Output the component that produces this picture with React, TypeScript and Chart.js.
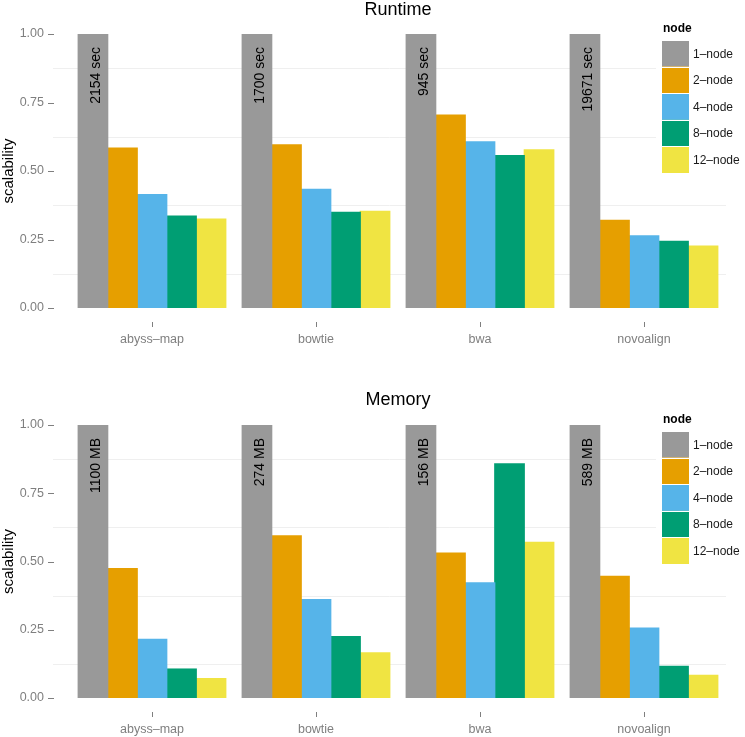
import React, { useEffect, useRef } from "react";
import { Chart, registerables } from "chart.js";

Chart.register(...registerables);

const programs = ["abyss–map", "bowtie", "bwa", "novoalign"];
const nodeLabels = ["1–node", "2–node", "4–node", "8–node", "12–node"];
const nodeColors = ["#999999", "#E69F00", "#56B4E9", "#009E73", "#F0E442"];
const yTicks = [0, 0.25, 0.5, 0.75, 1];

const runtime1 = [1, 1, 1, 1];
const runtime2 = [0.584, 0.595, 0.704, 0.32];
const runtime4 = [0.414, 0.433, 0.606, 0.263];
const runtime8 = [0.335, 0.349, 0.556, 0.243];
const runtime12 = [0.324, 0.353, 0.577, 0.226];
const runtimeBase = ["2154 sec", "1700 sec", "945 sec", "19671 sec"];

const memory1 = [1, 1, 1, 1];
const memory2 = [0.474, 0.594, 0.531, 0.446];
const memory4 = [0.215, 0.36, 0.422, 0.256];
const memory8 = [0.106, 0.225, 0.858, 0.116];
const memory12 = [0.071, 0.165, 0.57, 0.083];
const memoryBase = ["1100 MB", "274 MB", "156 MB", "589 MB"];

const FONT = "'Liberation Sans', Arial, Helvetica, sans-serif";

type PanelProps = {
  title: string;
  series: number[][];
  baseLabels: string[];
  height: number;
  padTop: number;
  xAxisHeight: number;
  titleY: number;
};

function Panel({ title, series, baseLabels, height, padTop, xAxisHeight, titleY }: PanelProps) {
  const ref = useRef<HTMLCanvasElement | null>(null);

  useEffect(() => {
    const canvas = ref.current;
    if (!canvas) return;

    const decor = {
      id: "decor",
      beforeDatasetsDraw(chart: any) {
        const ctx = chart.ctx;
        const y = chart.scales.y;
        const x = chart.scales.x;
        const area = chart.chartArea;
        ctx.save();
        // minor gridlines
        ctx.strokeStyle = "#efefef";
        ctx.lineWidth = 1;
        for (let i = 0; i < yTicks.length - 1; i++) {
          const v = (yTicks[i] + yTicks[i + 1]) / 2;
          const py = Math.round(y.getPixelForValue(v)) + 0.5;
          ctx.beginPath();
          ctx.moveTo(area.left - 17, py);
          ctx.lineTo(area.right, py);
          ctx.stroke();
        }
        // y tick marks
        ctx.strokeStyle = "#7f7f7f";
        for (const v of yTicks) {
          const py = Math.round(y.getPixelForValue(v)) + 0.5;
          ctx.beginPath();
          ctx.moveTo(area.left - 22, py);
          ctx.lineTo(area.left - 16, py);
          ctx.stroke();
        }
        // x tick marks
        for (let i = 0; i < programs.length; i++) {
          const px = Math.round(x.getPixelForTick(i)) + 0.5;
          ctx.beginPath();
          ctx.moveTo(px, area.bottom + 14);
          ctx.lineTo(px, area.bottom + 19);
          ctx.stroke();
        }
        // legend background
        ctx.fillStyle = "#ffffff";
        ctx.fillRect(656, area.top - 16, chart.width - 656, 5 * 26.6 + 24);
        ctx.restore();
      },
      afterDatasetsDraw(chart: any) {
        const ctx = chart.ctx;
        const area = chart.chartArea;
        ctx.save();
        // labels inside 1-node bars
        const meta = chart.getDatasetMeta(0);
        ctx.fillStyle = "#000000";
        ctx.font = `14px ${FONT}`;
        ctx.textAlign = "right";
        ctx.textBaseline = "middle";
        meta.data.forEach((bar: any, i: number) => {
          ctx.save();
          ctx.translate(bar.x + 3, bar.y + 13);
          ctx.rotate(-Math.PI / 2);
          ctx.fillText(baseLabels[i], 0, 0);
          ctx.restore();
        });
        // title
        ctx.font = `18px ${FONT}`;
        ctx.textAlign = "center";
        ctx.fillText(title, (area.left + area.right) / 2, titleY);
        // y axis title
        ctx.save();
        ctx.font = `15px ${FONT}`;
        ctx.translate(9, (area.top + area.bottom) / 2);
        ctx.rotate(-Math.PI / 2);
        ctx.textAlign = "center";
        ctx.fillText("scalability", 0, 0);
        ctx.restore();
        // legend
        const lx = 662;
        const ly = area.top + 6;
        const kh = 26.6;
        ctx.font = `bold 12px ${FONT}`;
        ctx.textAlign = "left";
        ctx.fillStyle = "#000000";
        ctx.fillText("node", lx + 1, area.top - 5);
        ctx.font = `12px ${FONT}`;
        for (let i = 0; i < nodeLabels.length; i++) {
          ctx.fillStyle = nodeColors[i];
          ctx.fillRect(lx, ly + i * kh, 27, kh);
          ctx.strokeStyle = "#ffffff";
          ctx.lineWidth = 1;
          ctx.beginPath();
          ctx.moveTo(lx, Math.round(ly + i * kh) + 0.5);
          ctx.lineTo(lx + 27, Math.round(ly + i * kh) + 0.5);
          ctx.stroke();
          ctx.fillStyle = "#1a1a1a";
          ctx.fillText(nodeLabels[i], lx + 31, ly + i * kh + kh / 2 + 1);
        }
        ctx.restore();
      },
    };

    const chart = new Chart(canvas, {
      type: "bar",
      data: {
        labels: programs,
        datasets: series.map((d, i) => ({
          label: nodeLabels[i],
          data: d,
          backgroundColor: nodeColors[i],
          borderWidth: 0,
          inflateAmount: 0.6,
          categoryPercentage: 0.9,
          barPercentage: 1,
        })),
      },
      options: {
        responsive: false,
        animation: false,
        devicePixelRatio: 1,
        layout: { padding: { top: padTop, right: 19, left: 0, bottom: 0 } },
        plugins: {
          legend: { display: false },
          title: { display: false },
          tooltip: { enabled: false },
        },
        scales: {
          x: {
            type: "category",
            offset: true,
            grid: { display: false },
            border: { display: false },
            ticks: {
              color: "#7f7f7f",
              font: { family: FONT, size: 12.5 },
              padding: 16,
              maxRotation: 0,
              autoSkip: false,
            },
            afterFit: (s: any) => {
              s.height = xAxisHeight;
            },
          },
          y: {
            min: 0,
            max: 1,
            grid: { display: false },
            border: { display: false },
            afterBuildTicks: (s: any) => {
              s.ticks = yTicks.map((v) => ({ value: v }));
            },
            ticks: {
              color: "#7f7f7f",
              font: { family: FONT, size: 12.5 },
              padding: 18,
              callback: (v: any) => Number(v).toFixed(2),
            },
            afterFit: (s: any) => {
              s.width = 70;
            },
          },
        },
      },
      plugins: [decor],
    } as any);

    return () => chart.destroy();
  }, []);

  return <canvas ref={ref} width={745} height={height} style={{ display: "block" }} />;
}

export default function App() {
  useEffect(() => {
    document.body.style.margin = "0";
  }, []);
  return (
    <div style={{ width: 745, height: 737, background: "#ffffff" }}>
      <Panel
        title="Runtime"
        series={[runtime1, runtime2, runtime4, runtime8, runtime12]}
        baseLabels={runtimeBase}
        height={368}
        padTop={34}
        xAxisHeight={60}
        titleY={10}
      />
      <Panel
        title="Memory"
        series={[memory1, memory2, memory4, memory8, memory12]}
        baseLabels={memoryBase}
        height={369}
        padTop={57}
        xAxisHeight={39}
        titleY={32}
      />
    </div>
  );
}
